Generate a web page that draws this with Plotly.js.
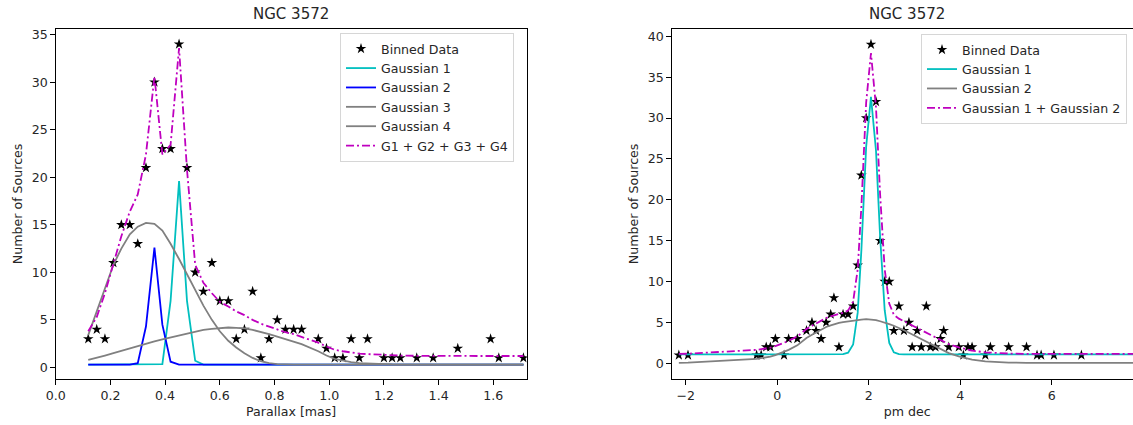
<!DOCTYPE html>
<html>
<head>
<meta charset="utf-8">
<script src="https://cdn.plot.ly/plotly-3.0.1.min.js"></script>
<style>
html,body{margin:0;padding:0;overflow:hidden;background:#fff;width:1133px;height:425px;}
#chart{width:1160px;height:425px;}
</style>
</head>
<body>
<div id="chart"></div>
<script>
// ---------- Left panel: Parallax ----------
const parallaxBins = [0.119,0.150,0.180,0.211,0.240,0.271,0.300,0.330,0.361,0.390,0.420,0.451,0.480,0.510,0.540,0.571,0.600,0.631,0.660,0.690,0.720,0.750,0.780,0.810,0.840,0.870,0.899,0.960,0.990,1.020,1.050,1.080,1.110,1.140,1.200,1.230,1.260,1.320,1.380,1.470,1.590,1.620,1.710];
const parallaxCounts = [3,4,3,11,15,15,13,21,30,23,23,34,21,10,8,11,7,7,3,4,8,1,3,5,4,4,4,3,2,1,1,3,1,3,1,1,1,1,1,2,3,1,1];
const parGauss1 = [0.3,0.3,0.3,0.3,0.3,0.3,0.3,0.3,0.3,0.35,7.0,19.6,7.0,0.7,0.3,0.3,0.3,0.3,0.3,0.3,0.3,0.3,0.3,0.3,0.3,0.3,0.3,0.3,0.3,0.3,0.3,0.3,0.3,0.3,0.3,0.3,0.3,0.3,0.3,0.3,0.3,0.3,0.3];
const parGauss2 = [0.3,0.3,0.3,0.3,0.3,0.3,0.45,4.3,12.6,4.5,0.6,0.3,0.3,0.3,0.3,0.3,0.3,0.3,0.3,0.3,0.3,0.3,0.3,0.3,0.3,0.3,0.3,0.3,0.3,0.3,0.3,0.3,0.3,0.3,0.3,0.3,0.3,0.3,0.3,0.3,0.3,0.3,0.3];
const parGauss3 = [3.4,5.8,8.3,10.8,12.5,14.0,14.8,15.2,15.1,14.4,13.0,11.4,9.8,8.1,6.5,5.0,3.8,2.8,2.1,1.5,1.0,0.65,0.45,0.35,0.3,0.3,0.3,0.3,0.3,0.3,0.3,0.3,0.3,0.3,0.3,0.3,0.3,0.3,0.3,0.3,0.3,0.3,0.3];
const parGauss4 = [0.8,1.0,1.25,1.5,1.75,2.0,2.25,2.5,2.75,2.95,3.15,3.4,3.6,3.8,3.95,4.05,4.15,4.2,4.15,4.1,3.95,3.75,3.5,3.25,3.0,2.7,2.45,1.7,1.25,0.9,0.7,0.55,0.45,0.4,0.33,0.31,0.3,0.3,0.3,0.3,0.3,0.3,0.3];
const parGaussSum = [3.8,5.3,7.8,10.8,13.8,16.4,18.2,22.4,30.6,22.4,23.4,33.6,20.8,10.8,8.9,7.8,6.9,6.4,5.9,5.5,5.0,4.6,4.3,4.0,3.7,3.5,3.2,2.6,2.2,1.85,1.7,1.55,1.45,1.4,1.3,1.27,1.25,1.22,1.2,1.2,1.2,1.2,1.2];

// ---------- Right panel: pm dec ----------
const pmdecBins = [-2.15,-1.95,-0.45,-0.35,-0.24,-0.15,-0.04,0.15,0.25,0.44,0.64,0.76,0.85,0.96,1.07,1.17,1.24,1.35,1.44,1.55,1.66,1.76,1.84,1.945,2.05,2.16,2.25,2.35,2.45,2.55,2.66,2.77,2.88,2.95,3.06,3.15,3.26,3.35,3.46,3.57,3.64,3.75,3.97,4.07,4.17,4.26,4.55,4.66,5.06,5.45,5.68,5.77,6.05,6.65,7.95];
const pmdecCounts = [1,1,1,1,2,2,3,1,3,3,4,5,4,3,5,6,8,2,6,6,7,12,23,30,39,32,15,10,10,4,7,4,5,2,4,2,7,2,2,3,4,2,2,1,2,2,1,2,2,2,1,1,1,1,1];
const pmGauss1 = [1.1,1.1,1.1,1.1,1.1,1.1,1.1,1.1,1.1,1.1,1.1,1.1,1.1,1.1,1.1,1.1,1.1,1.1,1.12,1.3,2.3,6.2,13.8,26.5,32.6,26.0,15.5,6.5,2.5,1.34,1.12,1.1,1.1,1.1,1.1,1.1,1.1,1.1,1.1,1.1,1.1,1.1,1.1,1.1,1.1,1.1,1.1,1.1,1.1,1.1,1.1,1.1,1.1,1.1,1.1];
const pmGauss2 = [0.05,0.08,0.55,0.62,0.72,0.82,1.0,1.4,1.65,2.2,3.1,3.5,3.8,4.1,4.45,4.65,4.8,4.95,5.05,5.15,5.25,5.3,5.35,5.4,5.35,5.3,5.15,5.0,4.8,4.6,4.35,4.05,3.75,3.55,3.2,2.9,2.6,2.35,2.0,1.7,1.5,1.25,0.85,0.7,0.55,0.45,0.25,0.2,0.1,0.06,0.05,0.05,0.05,0.05,0.05];
const pmGaussSum = [1.15,1.18,1.65,1.72,1.82,1.92,2.1,2.5,2.75,3.3,4.2,4.6,4.9,5.2,5.55,5.75,5.9,6.05,6.17,6.45,7.55,11.5,19.15,31.9,37.95,31.3,20.65,11.5,7.3,5.94,5.47,5.15,4.85,4.65,4.3,4.0,3.7,3.45,3.1,2.8,2.6,2.35,1.95,1.8,1.65,1.55,1.35,1.3,1.2,1.16,1.15,1.15,1.15,1.15,1.15];

const titleText = 'NGC 3572';
const leftLegendNames = ['Binned Data','Gaussian 1','Gaussian 2','Gaussian 3','Gaussian 4','G1 + G2 + G3 + G4'];
const rightLegendNames = ['Binned Data','Gaussian 1','Gaussian 2','Gaussian 1 + Gaussian 2'];

// ---------- styling ----------
const W = 1160, H = 425;
const FONT = 'DejaVu Sans, sans-serif';
const FS = 12.6;
const TXT = '#262626';
const CYAN = '#00bfbf', BLUE = '#0000ff', GRAY = '#808080', MAG = '#bf00bf';
const DASHDOT = '8px,3px,2px,3px';
const px2x = p => p / W;
const px2y = p => (H - p) / H;

const star = {symbol:'star', size:8, color:'#000', line:{width:0}};
const LW = 1.8;

const traces = [
  {x:parallaxBins, y:parallaxCounts, mode:'markers', marker:star, name:leftLegendNames[0], xaxis:'x', yaxis:'y', legend:'legend'},
  {x:parallaxBins, y:parGauss1, mode:'lines', line:{color:CYAN, width:LW}, name:leftLegendNames[1], xaxis:'x', yaxis:'y', legend:'legend'},
  {x:parallaxBins, y:parGauss2, mode:'lines', line:{color:BLUE, width:LW}, name:leftLegendNames[2], xaxis:'x', yaxis:'y', legend:'legend'},
  {x:parallaxBins, y:parGauss3, mode:'lines', line:{color:GRAY, width:LW}, name:leftLegendNames[3], xaxis:'x', yaxis:'y', legend:'legend'},
  {x:parallaxBins, y:parGauss4, mode:'lines', line:{color:GRAY, width:LW}, name:leftLegendNames[4], xaxis:'x', yaxis:'y', legend:'legend'},
  {x:parallaxBins, y:parGaussSum, mode:'lines', line:{color:MAG, width:LW, dash:DASHDOT}, name:leftLegendNames[5], xaxis:'x', yaxis:'y', legend:'legend'},

  {x:pmdecBins, y:pmdecCounts, mode:'markers', marker:star, name:rightLegendNames[0], xaxis:'x2', yaxis:'y2', legend:'legend2'},
  {x:pmdecBins, y:pmGauss1, mode:'lines', line:{color:CYAN, width:LW}, name:rightLegendNames[1], xaxis:'x2', yaxis:'y2', legend:'legend2'},
  {x:pmdecBins, y:pmGauss2, mode:'lines', line:{color:GRAY, width:LW}, name:rightLegendNames[2], xaxis:'x2', yaxis:'y2', legend:'legend2'},
  {x:pmdecBins, y:pmGaussSum, mode:'lines', line:{color:MAG, width:LW, dash:DASHDOT}, name:rightLegendNames[3], xaxis:'x2', yaxis:'y2', legend:'legend2'}
];

const axisCommon = {
  showgrid:false, zeroline:false, showline:true, linecolor:'#000', linewidth:1, mirror:true,
  ticks:'outside', ticklen:4.5, tickcolor:'#000', tickwidth:1,
  tickfont:{family:FONT, size:FS, color:TXT}
};
const yDomain = [px2y(379.3), px2y(28.5)];
const titleFont = {family:FONT, size:FS, color:TXT};

const legendCommon = {
  font:{family:FONT, size:FS, color:TXT},
  bgcolor:'rgba(255,255,255,0.85)', bordercolor:'#d6d6d6', borderwidth:1,
  xanchor:'left', yanchor:'top', tracegroupgap:0, itemwidth:30
};

const layout = {
  width:W, height:H,
  margin:{l:0, r:0, t:0, b:0},
  paper_bgcolor:'#fff', plot_bgcolor:'#fff',
  font:{family:FONT, color:TXT},
  showlegend:true,
  xaxis:Object.assign({}, axisCommon, {
    domain:[px2x(55.7), px2x(526.7)], range:[0, 1.722], dtick:0.2, tick0:0, tickformat:'.1f', anchor:'y',
    title:{text:'Parallax [mas]', font:titleFont, standoff:5}
  }),
  yaxis:Object.assign({}, axisCommon, {
    domain:yDomain, range:[-1.25, 35.65], dtick:5, tick0:0, anchor:'x',
    title:{text:'Number of Sources', font:titleFont, standoff:6}
  }),
  xaxis2:Object.assign({}, axisCommon, {
    domain:[px2x(671.7), px2x(1142.7)], range:[-2.306, 7.99], dtick:2, tick0:0, anchor:'y2',
    title:{text:'pm dec', font:titleFont, standoff:5}
  }),
  yaxis2:Object.assign({}, axisCommon, {
    domain:yDomain, range:[-1.95, 40.95], dtick:5, tick0:0, anchor:'x2',
    title:{text:'Number of Sources', font:titleFont, standoff:6}
  }),
  legend:Object.assign({}, legendCommon, {x:px2x(340), y:px2y(33)}),
  legend2:Object.assign({}, legendCommon, {x:px2x(921), y:px2y(34)}),
  annotations:[
    {text:titleText, xref:'paper', yref:'paper', x:px2x(291.2), y:px2y(14), xanchor:'center', yanchor:'middle', showarrow:false, font:{family:FONT, size:15, color:TXT}},
    {text:titleText, xref:'paper', yref:'paper', x:px2x(907.2), y:px2y(14), xanchor:'center', yanchor:'middle', showarrow:false, font:{family:FONT, size:15, color:TXT}}
  ]
};

Plotly.newPlot('chart', traces, layout, {staticPlot:true, displayModeBar:false});
</script>
</body>
</html>
